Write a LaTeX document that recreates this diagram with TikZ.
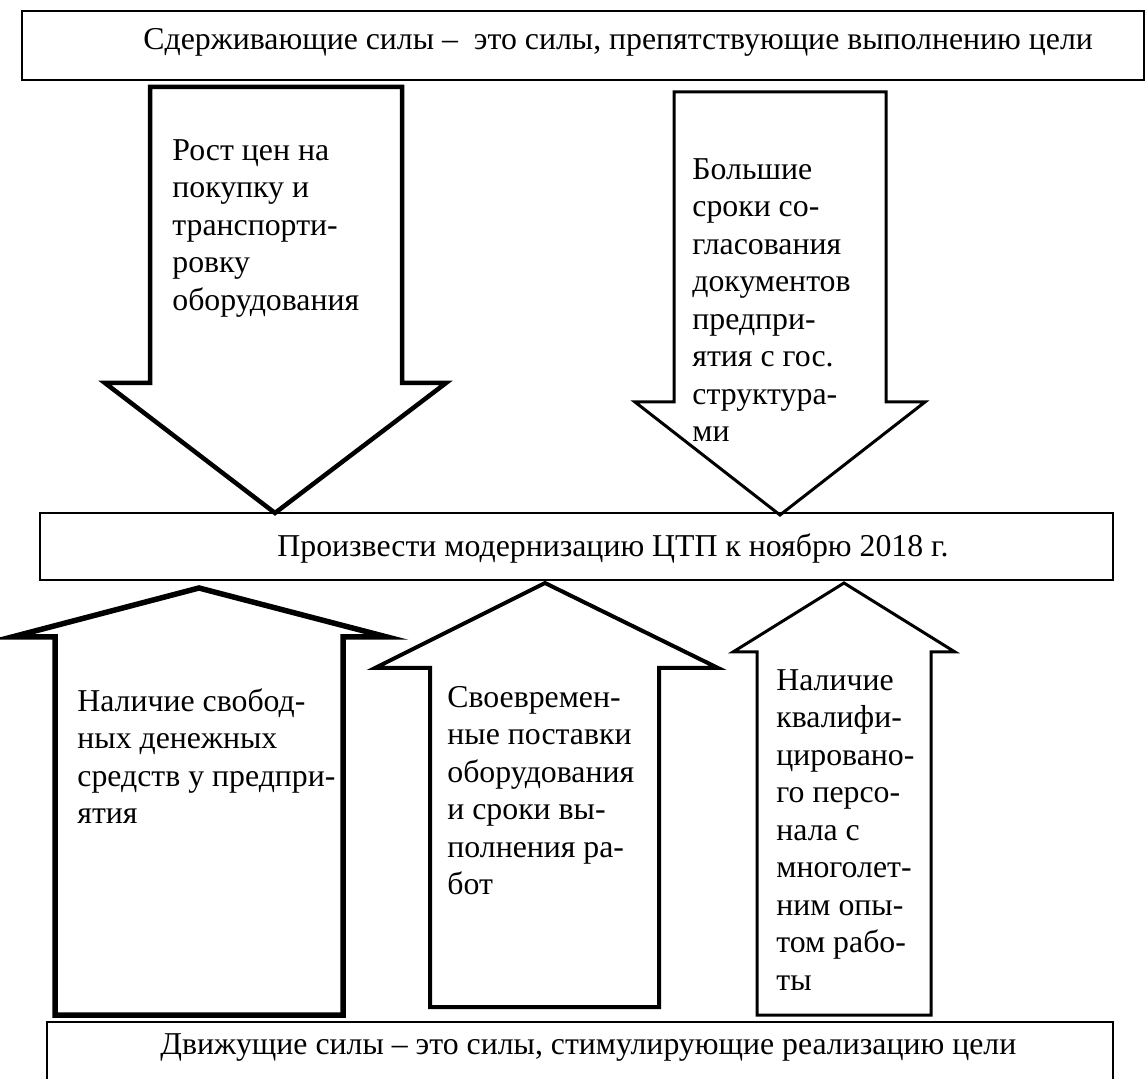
\documentclass[tikz,border=0pt]{standalone}
\usepackage{fontspec}
\setmainfont{Liberation Serif}

\begin{document}
\begin{tikzpicture}[x=0.5pt,y=-0.5pt,
  box/.style={draw,line width=1pt,inner sep=0pt},
  txt/.style={font={\fontsize{15.9}{18.75}\selectfont},align=left,inner sep=0pt,anchor=north west},
  ttl/.style={font={\fontsize{15.9}{18.75}\selectfont},inner sep=0pt,anchor=base west}]
  \clip (0,0) rectangle (1146,1079);
  % boxes
  \node[box,minimum width=561pt,minimum height=34.5pt] (restr) at (583,45.5) {};
  \node[box,minimum width=536.5pt,minimum height=33.5pt] (goal) at (576.5,546.5) {};
  \node[box,minimum width=533pt,minimum height=40pt] (drive) at (580,1062) {};
  \node[ttl] (restrtxt) at (143,50) {Сдерживающие силы –\ \ это силы, препятствующие выполнению цели};
  \node[ttl] (goaltxt) at (277,557) {Произвести модернизацию ЦТП к ноябрю 2018 г.};
  \node[ttl] (drivetxt) at (160,1054) {Движущие силы – это силы, стимулирующие реализацию цели};
  % restraining forces
  \draw[line width=2.25pt] (150,87) -- (402,87) -- (402,383) -- (446,383) -- (275,513)
    -- (105,383) -- (150,383) -- cycle;
  \draw[line width=1.5pt] (674,92) -- (886,92) -- (886,402) -- (925,402) -- (780,515)
    -- (635,402) -- (674,402) -- cycle;
  \node[txt] (r1) at (172,139) {Рост цен на\\покупку и\\транспорти-\\ровку\\оборудования};
  \node[txt] (r2) at (692,158) {Большие\\сроки со-\\гласования\\документов\\предпри-\\ятия с гос.\\структура-\\ми};
  % driving forces
  \draw[line width=2.75pt] (199,588) -- (387,637) -- (343,637) -- (343,1015) -- (55,1015)
    -- (55,637) -- (12,637) -- cycle;
  \draw[line width=2pt] (545,583) -- (718,668) -- (659,668) -- (659,1007) -- (430,1007)
    -- (430,668) -- (375,668) -- cycle;
  \draw[line width=1.5pt] (844,583) -- (955,652) -- (931,652) -- (931,1015) -- (757,1015)
    -- (757,652) -- (733,652) -- cycle;
  \node[txt] (d1) at (77,688) {Наличие свобод-\\ных денежных\\средств у предпри-\\ятия};
  \node[txt] (d2) at (447,686) {Своевремен-\\ные поставки\\оборудования\\и сроки вы-\\полнения ра-\\бот};
  \node[txt] (d3) at (776,669) {Наличие\\квалифи-\\цировано-\\го персо-\\нала с\\многолет-\\ним опы-\\том рабо-\\ты};
\end{tikzpicture}
\end{document}
